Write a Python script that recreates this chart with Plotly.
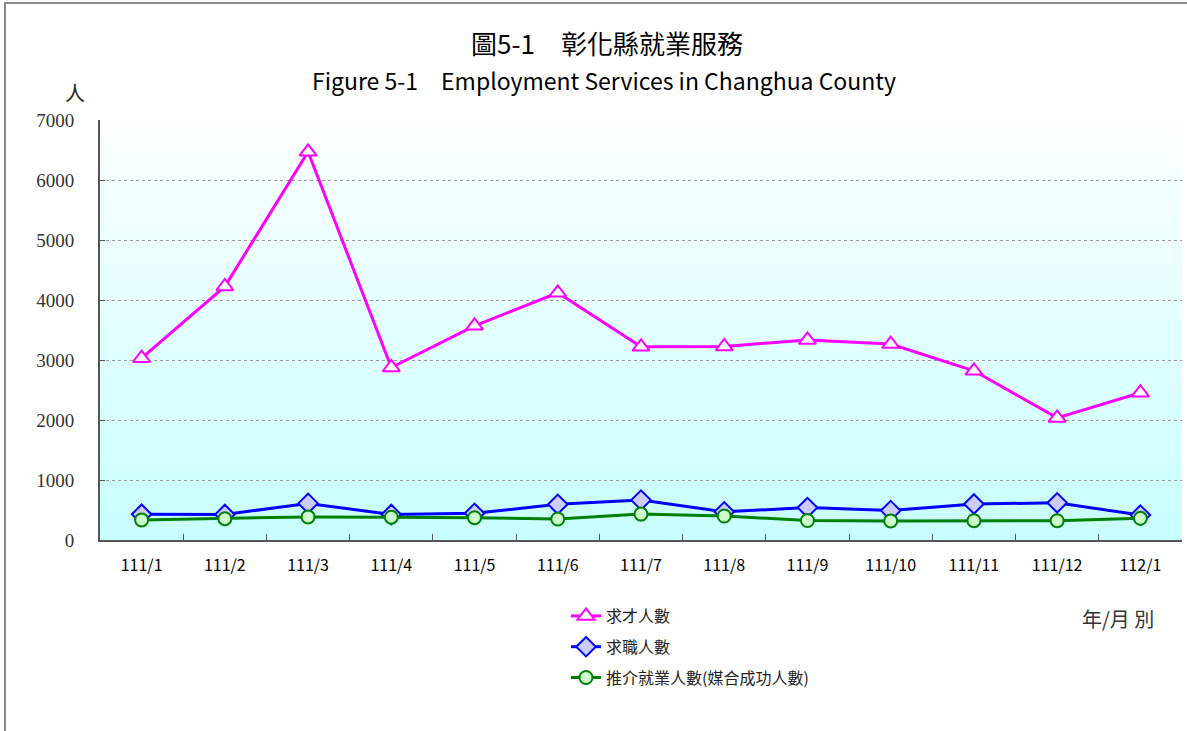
import plotly.graph_objects as go

months = ['111/1', '111/2', '111/3', '111/4', '111/5', '111/6', '111/7',
          '111/8', '111/9', '111/10', '111/11', '111/12', '112/1']
job_openings = [3030, 4225, 6470, 2875, 3570, 4120, 3220, 3225, 3335, 3265, 2820, 2035, 2455]
job_seekers = [430, 425, 610, 425, 445, 595, 665, 470, 540, 490, 600, 620, 415]
placements = [335, 355, 385, 380, 372, 350, 432, 400, 325, 318, 322, 322, 362]

names = ['求才人數', '求職人數', '推介就業人數(媒合成功人數)']

W, H = 1187, 731
L, R, T, B = 100, 5, 120, 191
pw, ph = W - L - R, H - T - B

def px_x(x):
    return (x - L) / pw

def px_y(y):
    return (H - B - y) / ph

fig = go.Figure()

fig.add_trace(go.Scatter(x=months, y=job_openings, name=names[0], mode='lines+markers', legendgroup='a',
                         line=dict(color='#ff00ff', width=3),
                         marker=dict(symbol='triangle-up', size=15, color='white',
                                     line=dict(color='#ff00ff', width=2))))
fig.add_trace(go.Scatter(x=months, y=job_seekers, name=names[1], mode='lines+markers', legendgroup='b',
                         line=dict(color='#0000ff', width=3),
                         marker=dict(symbol='diamond', size=15, color='#ccccff',
                                     line=dict(color='#0000ff', width=2))))
fig.add_trace(go.Scatter(x=months, y=placements, name=names[2], mode='lines+markers', legendgroup='c',
                         line=dict(color='#008000', width=3),
                         marker=dict(symbol='circle', size=13, color='#ccffcc',
                                     line=dict(color='#008000', width=2))))

# gradient plot background: near white at top to light cyan at bottom
shapes = []
n = 60
top, bot = (252, 255, 255), (200, 255, 255)
for i in range(n):
    f = i / (n - 1)
    c = tuple(round(top[k] + (bot[k] - top[k]) * f) for k in range(3))
    shapes.append(dict(type='rect', xref='x domain', yref='y domain', layer='below',
                       x0=0, x1=1, y0=1 - (i + 1) / n, y1=1 - i / n,
                       fillcolor='rgb(%d,%d,%d)' % c, line=dict(width=0)))
# outer frame
shapes.append(dict(type='rect', xref='paper', yref='paper',
                   x0=px_x(5), x1=px_x(1240), y0=px_y(800), y1=px_y(3),
                   line=dict(color='#666666', width=1.5), fillcolor='rgba(0,0,0,0)'))

def label(text, x, y, size, color):
    return dict(text=text, x=px_x(x), y=px_y(y), xref='paper', yref='paper',
                xanchor='center', yanchor='middle', showarrow=False,
                font=dict(family='Noto Sans CJK TC', size=size, color=color))

fig.update_layout(
    width=W, height=H,
    margin=dict(l=L, r=R, t=T, b=B),
    paper_bgcolor='white', plot_bgcolor='rgba(0,0,0,0)',
    shapes=shapes,
    showlegend=True,
    legend=dict(x=px_x(566), y=px_y(599), xanchor='left', yanchor='top',
                font=dict(family='Noto Sans CJK TC', size=16, color='#222222'),
                tracegroupgap=7, bgcolor='rgba(0,0,0,0)'),
    annotations=[
        label('圖5-1　彰化縣就業服務', 607, 42, 26, 'black'),
        label('Figure 5-1　Employment Services in Changhua County', 604, 80, 23, 'black'),
        label('人', 75, 92, 20, '#222222'),
        label('年/月 別', 1118, 618, 20, '#333333'),
    ],
)

fig.update_xaxes(type='category', tickson='boundaries', ticks='inside', ticklen=6,
                 tickcolor='#555555', showline=True, linecolor='#555555', linewidth=2,
                 showgrid=False, tickfont=dict(family='Noto Sans CJK TC', size=16, color='black'),
                 ticklabelstandoff=10, range=[-0.5, 12.5])
fig.update_yaxes(range=[0, 7000], dtick=1000, ticks='inside', ticklen=5, tickcolor='#555555',
                 showline=True, linecolor='#555555', linewidth=2,
                 showgrid=True, gridcolor='#999999', griddash='dot', gridwidth=1,
                 zeroline=False, ticklabelstandoff=20,
                 tickfont=dict(family='Liberation Serif', size=19, color='#333333'))

# the page body margin would shift the chart by 8px; remove it
fig.write_html('out.html', config={'displayModeBar': False},
               post_script="document.body.style.margin='0px';")
